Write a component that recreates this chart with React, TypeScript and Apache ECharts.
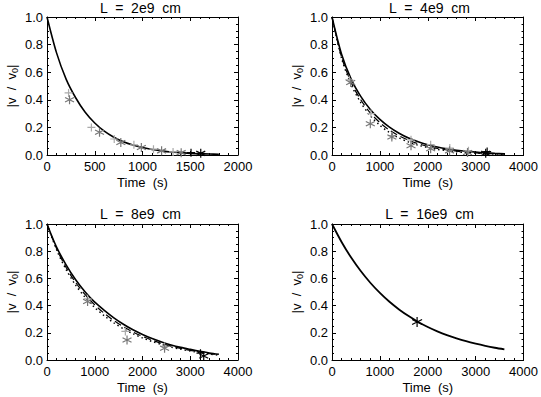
import React, { useEffect, useRef } from "react";
import * as echarts from "echarts";

// ---------- data ----------
const titles = ["L  =  2e9  cm", "L  =  4e9  cm", "L  =  8e9  cm", "L  =  16e9  cm"];
const xMaxes = [2000, 4000, 4000, 4000];
const xIntervals = [500, 1000, 1000, 1000];
const yTicks = [0, 0.2, 0.4, 0.6, 0.8, 1.0];

// panel 1 (L = 2e9 cm)
const t1 = [0, 100, 200, 300, 400, 500, 600, 700, 800, 900, 1000, 1100, 1200, 1300, 1400, 1500, 1600, 1700, 1800];
const solid1 = [1, 0.74, 0.55, 0.415, 0.31, 0.232, 0.173, 0.129, 0.096, 0.072, 0.054, 0.04, 0.03, 0.022, 0.017, 0.012, 0.009, 0.007, 0.005];
const plus1T = [226, 465, 704, 910, 1115, 1320];
const plus1V = [0.45, 0.2, 0.116, 0.074, 0.042, 0.022];
const star1T = [236, 550, 773, 988, 1200, 1405];
const star1V = [0.4, 0.165, 0.09, 0.054, 0.03, 0.017];
const endPlus1 = [1508, 0.017];
const endStar1 = [1610, 0.012];

// panels 2-4 share this time grid
const tLong = [0, 200, 400, 600, 800, 1000, 1200, 1400, 1600, 1800, 2000, 2200, 2400, 2600, 2800, 3000, 3200, 3400, 3600];

// panel 2 (L = 4e9 cm)
const solid2 = [1, 0.73, 0.55, 0.425, 0.33, 0.258, 0.202, 0.158, 0.123, 0.096, 0.075, 0.058, 0.045, 0.035, 0.027, 0.021, 0.016, 0.012, 0.009];
const dashed2 = [1, 0.71, 0.525, 0.4, 0.305, 0.235, 0.18, 0.139, 0.107, 0.082, 0.063, 0.048, 0.037, 0.028, 0.021, 0.016, 0.012, 0.009, 0.007];
const dotted2 = [1, 0.7, 0.51, 0.38, 0.285, 0.215, 0.163, 0.124, 0.094, 0.071, 0.054, 0.041, 0.031, 0.023, 0.017, 0.013, 0.01, 0.007, 0.005];
const plus2T = [360, 813, 1250, 1650, 2060, 2460, 2850];
const plus2V = [0.545, 0.3, 0.14, 0.11, 0.075, 0.05, 0.03];
const star2T = [390, 800, 1250, 1650, 2060, 2455, 2830];
const star2V = [0.525, 0.227, 0.13, 0.067, 0.045, 0.03, 0.018];
const endPlus2 = [3240, 0.025];
const endStar2 = [3210, 0.012];

// panel 3 (L = 8e9 cm)
const solid3 = [1, 0.83, 0.7, 0.59, 0.5, 0.425, 0.365, 0.31, 0.263, 0.222, 0.188, 0.158, 0.133, 0.111, 0.093, 0.078, 0.064, 0.052, 0.042];
const dashed3 = [1, 0.82, 0.68, 0.57, 0.48, 0.405, 0.343, 0.29, 0.245, 0.206, 0.174, 0.146, 0.122, 0.102, 0.085, 0.071, 0.058, 0.047, 0.038];
const dotted3 = [1, 0.81, 0.665, 0.55, 0.46, 0.385, 0.325, 0.273, 0.23, 0.193, 0.162, 0.136, 0.114, 0.095, 0.079, 0.066, 0.054, 0.044, 0.035];
const plus3T = [850, 1641, 2462];
const plus3V = [0.45, 0.21, 0.1];
const star3T = [850, 1676, 2462];
const star3V = [0.43, 0.147, 0.086];
const endPlus3 = [3214, 0.05];
const endStar3 = [3282, 0.03];

// panel 4 (L = 16e9 cm)
const solid4 = [1, 0.868, 0.753, 0.654, 0.568, 0.493, 0.428, 0.372, 0.323, 0.28, 0.243, 0.211, 0.183, 0.159, 0.138, 0.12, 0.104, 0.09, 0.078];
const endStar4 = [1777, 0.28];

// ---------- styling ----------
const FONT = "Liberation Sans, Arial, Helvetica, sans-serif";
const STAR = "path://M0,-5L0,5M-4.33,-2.5L4.33,2.5M-4.33,2.5L4.33,-2.5";
const PLUS = "path://M-5,0L5,0M0,-5L0,5";
const grids = [
  { left: 43, top: 17, width: 195, height: 138 },
  { left: 332, top: 17, width: 195, height: 138 },
  { left: 43, top: 224, width: 195, height: 136 },
  { left: 332, top: 224, width: 195, height: 136 },
];

const pairs = (t: number[], v: number[]) => t.map((x, i) => [x, v[i]]);

function lineSeries(p: number, t: number[], v: number[], type: any, width: number) {
  return {
    type: "line",
    xAxisIndex: 2 * p,
    yAxisIndex: 2 * p,
    data: pairs(t, v),
    showSymbol: false,
    smooth: 0.3,
    silent: true,
    lineStyle: { color: "#000", width, type },
    z: 3,
  };
}

function markSeries(p: number, data: number[][], symbol: string, color: string, size = 8) {
  return {
    type: "scatter",
    xAxisIndex: 2 * p,
    yAxisIndex: 2 * p,
    data,
    symbol,
    symbolSize: size,
    silent: true,
    itemStyle: { color: "none", borderColor: color, borderWidth: 1.2, opacity: 1 },
    z: 4,
  };
}

export default function App() {
  const ref = useRef<HTMLDivElement>(null);
  useEffect(() => {
    if (!ref.current) return;
    const chart = echarts.init(ref.current, null, { renderer: "svg" });

    const xAxis: any[] = [];
    const yAxis: any[] = [];
    const title: any[] = [];
    for (let p = 0; p < 4; p++) {
      const g = grids[p];
      title.push({
        text: titles[p],
        left: g.left + g.width / 2,
        top: p < 2 ? 0 : 206,
        textAlign: "center",
        padding: 0,
        textStyle: { fontFamily: FONT, fontSize: 14, lineHeight: 15, fontWeight: "normal", color: "#000" },
      });
      const xCommon = {
        type: "value",
        gridIndex: p,
        min: 0,
        max: xMaxes[p],
        interval: xIntervals[p],
        axisLine: { show: true, onZero: false, lineStyle: { color: "#000", width: 1 } },
        axisTick: { show: true, inside: true, length: 4, lineStyle: { color: "#000" } },
        minorTick: { show: true, splitNumber: 5, length: 2, lineStyle: { color: "#000" } },
        splitLine: { show: false },
      };
      xAxis.push({
        ...xCommon,
        position: "bottom",
        name: "Time  (s)",
        nameLocation: "middle",
        nameGap: 21,
        nameTextStyle: { fontFamily: FONT, fontSize: 13, color: "#000" },
        axisLabel: {
          show: true,
          margin: 5,
          fontFamily: FONT,
          fontSize: 13,
          color: "#000",
          formatter: (v: number) => String(v),
        },
      });
      xAxis.push({ ...xCommon, position: "top", axisLabel: { show: false } });
      const yCommon = {
        type: "value",
        gridIndex: p,
        min: yTicks[0],
        max: yTicks[yTicks.length - 1],
        interval: 0.2,
        axisLine: { show: true, onZero: false, lineStyle: { color: "#000", width: 1 } },
        axisTick: { show: true, inside: true, length: 4, lineStyle: { color: "#000" } },
        minorTick: { show: true, splitNumber: 4, length: 2, lineStyle: { color: "#000" } },
        splitLine: { show: false },
      };
      yAxis.push({
        ...yCommon,
        position: "left",
        name: "{n||v  /  v}{s|0}{n||}",
        nameLocation: "middle",
        nameGap: 28,
        nameRotate: 90,
        nameTextStyle: {
          fontFamily: FONT,
          fontSize: 13,
          color: "#000",
          rich: {
            n: { fontFamily: FONT, fontSize: 13, color: "#000", lineHeight: 14, verticalAlign: "top" },
            s: { fontFamily: FONT, fontSize: 9, color: "#000", lineHeight: 10, padding: [9, 0, 0, 0], verticalAlign: "bottom" },
          },
        },
        axisLabel: {
          show: true,
          margin: 4,
          fontFamily: FONT,
          fontSize: 13,
          color: "#000",
          formatter: (v: number) => v.toFixed(1),
        },
      });
      yAxis.push({ ...yCommon, position: "right", axisLabel: { show: false } });
    }

    const series: any[] = [
      // panel 1
      lineSeries(0, t1, solid1, "solid", 1.6),
      markSeries(0, pairs(plus1T, plus1V), PLUS, "#aaaaaa"),
      markSeries(0, pairs(star1T, star1V), STAR, "#777777", 9),
      markSeries(0, [endPlus1], PLUS, "#000"),
      markSeries(0, [endStar1], STAR, "#000", 9),
      // panel 2
      lineSeries(1, tLong, solid2, "solid", 1.6),
      lineSeries(1, tLong, dashed2, [7, 4], 1.2),
      lineSeries(1, tLong, dotted2, [1.5, 3], 1.4),
      markSeries(1, pairs(plus2T, plus2V), PLUS, "#aaaaaa"),
      markSeries(1, pairs(star2T, star2V), STAR, "#777777", 9),
      markSeries(1, [endPlus2], PLUS, "#000"),
      markSeries(1, [endStar2], STAR, "#000", 9),
      // panel 3
      lineSeries(2, tLong, solid3, "solid", 1.6),
      lineSeries(2, tLong, dashed3, [7, 4], 1.2),
      lineSeries(2, tLong, dotted3, [1.5, 3], 1.4),
      markSeries(2, pairs(plus3T, plus3V), PLUS, "#aaaaaa"),
      markSeries(2, pairs(star3T, star3V), STAR, "#777777", 9),
      markSeries(2, [endPlus3], PLUS, "#000"),
      markSeries(2, [endStar3], STAR, "#000", 9),
      // panel 4
      lineSeries(3, tLong, solid4, "solid", 1.8),
      markSeries(3, [endStar4], STAR, "#000", 10),
    ];

    chart.setOption({
      animation: false,
      backgroundColor: "#fff",
      title,
      grid: grids.map((g) => ({ ...g, containLabel: false })),
      xAxis,
      yAxis,
      series,
    });
    return () => chart.dispose();
  }, []);
  return (
    <div
      ref={ref}
      style={{ position: "fixed", left: 0, top: 0, width: 541, height: 397, background: "#fff" }}
    />
  );
}
